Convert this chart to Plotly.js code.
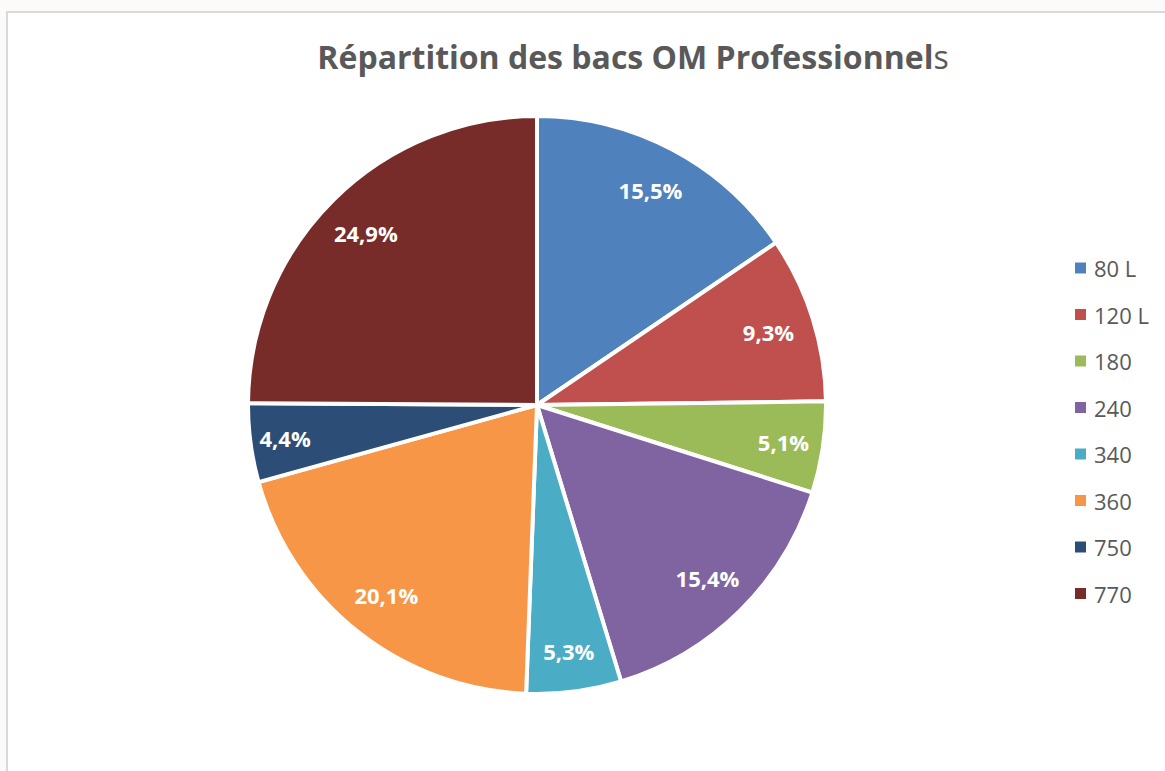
<!DOCTYPE html>
<html>
<head>
<meta charset="utf-8">
<script src="https://cdn.plot.ly/plotly-3.0.1.min.js"></script>
<style>html,body{margin:0;padding:0;background:#fdfafa;}#chart{width:1165px;height:771px;}</style>
</head>
<body>
<div id="chart"></div>
<script>
const categories = ["80 L", "120 L", "180", "240", "340", "360", "750", "770"];
const shares = [15.5, 9.3, 5.1, 15.4, 5.3, 20.1, 4.4, 24.9];
const colors = ["#4F81BD", "#C0504D", "#9BBB59", "#8064A2", "#4BACC6", "#F79646", "#2C4D75", "#772C2A"];
const titleText = "<b>Répartition des bacs OM Professionnel</b>s";

const W = 1165, H = 771;
const legendTop = 268, legendStep = 46.5;
const pieDomain = {x: [(537 - 289) / W, (537 + 289) / W], y: [(H - 694) / H, (H - 116) / H]};

const shapes = [{
  type: "rect", xref: "paper", yref: "paper",
  x0: 7 / W, x1: 1.01, y0: -0.01, y1: 1 - 12 / H,
  line: {color: "#d9d9d9", width: 2}, fillcolor: "#ffffff", layer: "below"
}];
const annotations = [];
categories.forEach((c, i) => {
  const yc = legendTop + i * legendStep;
  shapes.push({
    type: "rect", xref: "paper", yref: "paper",
    x0: 1075 / W, x1: 1086 / W, y0: 1 - (yc + 5.5) / H, y1: 1 - (yc - 5.5) / H,
    line: {width: 0}, fillcolor: colors[i]
  });
  annotations.push({
    xref: "paper", yref: "paper", x: 1092 / W, y: 1 - yc / H,
    xanchor: "left", yanchor: "middle", showarrow: false,
    text: c, font: {family: "Open Sans, sans-serif", size: 22, color: "#595959"}
  });
});

const slices = {
  type: "pie",
  labels: categories,
  values: shares,
  sort: false,
  direction: "clockwise",
  rotation: 0,
  marker: {colors: colors, line: {color: "#ffffff", width: 4}},
  textinfo: "none",
  hoverinfo: "label+percent",
  showlegend: false,
  domain: pieDomain
};

const labelsRing = {
  type: "pie",
  labels: categories,
  values: shares,
  sort: false,
  direction: "clockwise",
  rotation: 0,
  hole: 0.68,
  marker: {colors: categories.map(() => "rgba(0,0,0,0)"), line: {width: 0}},
  texttemplate: "%{percent:.1%}",
  textposition: "inside",
  insidetextorientation: "horizontal",
  textfont: {family: "Open Sans, sans-serif", size: 22, color: "#ffffff", weight: "bold"},
  hoverinfo: "skip",
  showlegend: false,
  domain: pieDomain
};

const layout = {
  width: W, height: H,
  margin: {l: 0, r: 0, t: 0, b: 0},
  paper_bgcolor: "#fdfafa",
  separators: ",\u00a0",
  uniformtext: {minsize: 22, mode: "show"},
  title: {
    text: titleText,
    x: 633 / W, xanchor: "center", xref: "paper",
    y: 1 - 58 / H, yanchor: "middle", yref: "paper",
    font: {family: "Open Sans, sans-serif", size: 32, color: "#595959"}
  },
  shapes: shapes,
  annotations: annotations
};

Plotly.newPlot("chart", [slices, labelsRing], layout, {displayModeBar: false, staticPlot: true});
</script>
</body>
</html>
